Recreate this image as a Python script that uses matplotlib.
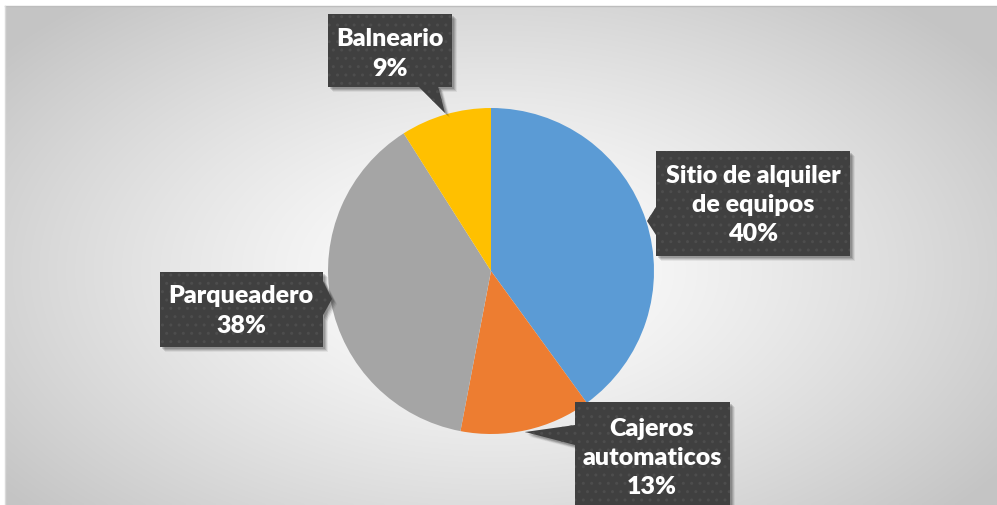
import numpy as np
import matplotlib
matplotlib.use("Agg")
import matplotlib.pyplot as plt
from matplotlib.patches import Polygon

categories = ["Sitio de alquiler\nde equipos", "Cajeros\nautomaticos", "Parqueadero", "Balneario"]
values = [40, 13, 38, 9]
colors = ["#5B9BD5", "#ED7D31", "#A5A5A5", "#FFC000"]

W, H = 997, 506
plt.rcParams['hatch.color'] = '#4d4d4d'
plt.rcParams['hatch.linewidth'] = 1.0

fig = plt.figure(figsize=(W / 100, H / 100), dpi=100)
fig.patch.set_facecolor("white")
ax = fig.add_axes([0, 0, 1, 1])

def py(y):
    return H - y

# background radial gradient (chart area)
x0, x1, ytop, ybot = 5, W, 7, H
xs = np.linspace(x0, x1, 400)
ys = np.linspace(ytop, ybot, 200)
X, Y = np.meshgrid(xs, ys)
cx, cy = 491, 272
d = np.sqrt(((X - cx) / 620) ** 2 + ((Y - cy) / 360) ** 2)
d = np.clip(d, 0, 1)
v = 1 - (1 - 0.77) * d ** 1.3
img = np.dstack([v, v, v])
ax.imshow(img, extent=[x0, x1, py(ybot), py(ytop)], origin="upper", zorder=0, aspect="auto", interpolation="bilinear")
ax.plot([x0, x1], [py(ytop), py(ytop)], color="#bdbdbd", lw=1, zorder=1)
ax.plot([x0, x0], [py(ytop), py(ybot)], color="#d9d9d9", lw=1, zorder=1)

# pie
R = 163
ax.pie(values, colors=colors, startangle=90, counterclock=False,
       center=(491, py(272)), radius=R, wedgeprops=dict(linewidth=0), frame=True)
for w in ax.patches:
    w.set_zorder(3)

def callout(box, ptr, label, cxy):
    bx0, by0, bx1, by1 = box
    rect = [(bx0, by0), (bx1, by0), (bx1, by1), (bx0, by1)]
    shapes = [rect, ptr]
    for dx, dy, a in [(4, 4, 0.10), (3, 3, 0.12), (2, 2, 0.14), (5, 5, 0.06)]:
        for s in shapes:
            pts = [(x + dx, py(y + dy)) for x, y in s]
            ax.add_patch(Polygon(pts, closed=True, facecolor="black", alpha=a, lw=0, zorder=4))
    for s in shapes:
        pts = [(x, py(y)) for x, y in s]
        ax.add_patch(Polygon(pts, closed=True, facecolor="#404040", lw=0, zorder=5))
        ax.add_patch(Polygon(pts, closed=True, facecolor="none", hatch="..", lw=0, zorder=5.5))
    ax.text(cxy[0], py(cxy[1]), label, ha="center", va="center", color="white",
            fontsize=18, fontweight="heavy", family=["Lato", "DejaVu Sans"],
            linespacing=1.4, zorder=6)

labels = [f"{c}\n{v}%" for c, v in zip(categories, values)]

callout((656, 152, 850, 257), [(656, 208), (647, 222), (656, 236)], labels[0], (753, 205))
callout((575, 403, 730, 520), [(575, 426), (525, 433), (575, 446)], labels[1], (652, 458))
callout((160, 273, 323, 348), [(322, 280), (332, 300), (322, 318)], labels[2], (241, 311))
callout((328, 15, 452, 88), [(418, 87), (445, 114), (438, 87)], labels[3], (390, 54))

ax.set_xlim(0, W)
ax.set_ylim(0, H)
ax.set_aspect("auto")
ax.axis("off")
fig.savefig("out.png", dpi=100, facecolor="white")
